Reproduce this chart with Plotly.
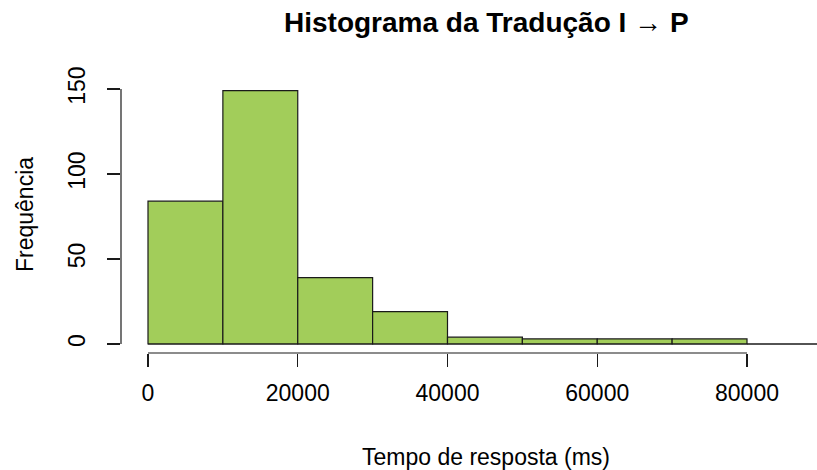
import plotly.graph_objects as go

# Histogram data (bin edges in ms, counts per bin)
bin_edges = [0, 10000, 20000, 30000, 40000, 50000, 60000, 70000, 80000, 90000, 100000]
counts = [84, 149, 39, 19, 4, 3, 3, 3, 0, 0]

x_ticks = [0, 20000, 40000, 60000, 80000]
x_tick_labels = ["0", "20000", "40000", "60000", "80000"]
y_ticks = [0, 50, 100, 150]
y_tick_labels = ["0", "50", "100", "150"]

title_text = "<b>Histograma da Tradução I \u2192 P</b>"
x_title = "Tempo de resposta (ms)"
y_title = "Frequência"

FONT = "Liberation Sans, Arial, sans-serif"
BAR_COLOR = "#A2CD5A"
EDGE = "#1a1a1a"

mids = [(a + b) / 2 for a, b in zip(bin_edges[:-1], bin_edges[1:])]
widths = [b - a for a, b in zip(bin_edges[:-1], bin_edges[1:])]

fig = go.Figure()
fig.add_trace(go.Bar(
    x=mids, y=counts, width=widths,
    marker=dict(color=BAR_COLOR, line=dict(color=EDGE, width=1.2)),
    hoverinfo="skip", showlegend=False,
))
# zero-height bins draw as a flat line along y = 0
fig.add_trace(go.Scatter(
    x=[bin_edges[0], bin_edges[-1]], y=[0, 0], mode="lines",
    line=dict(color=EDGE, width=1.2), hoverinfo="skip", showlegend=False,
))

W, H = 817, 470
plot_left, plot_top, plot_bottom = 121, 80, 353  # page pixels
ml, mr, mt = plot_left, 0, plot_top
mb = H - plot_bottom
PW = W - ml - mr
PH = H - mt - mb


def px_x(px):
    return (px - plot_left) / PW


def px_y(py):
    return (plot_bottom - py) / PH


fig.update_layout(
    width=W, height=H,
    margin=dict(l=ml, r=mr, t=mt, b=mb, pad=0, autoexpand=False),
    paper_bgcolor="white", plot_bgcolor="white",
    font=dict(family=FONT, color="black"),
    bargap=0,
    hovermode=False,
    xaxis=dict(
        range=[-3606, 89349], showgrid=False, zeroline=False, showline=False,
        tickmode="array", tickvals=x_ticks, ticktext=x_tick_labels,
        ticks="outside", ticklen=13, tickwidth=1.2, tickcolor=EDGE,
        tickfont=dict(size=23, family=FONT, color="black"),
        ticklabelstandoff=6, fixedrange=True,
    ),
    yaxis=dict(
        range=[-5.294, 155.29], showgrid=False, zeroline=False, showline=False,
        tickmode="array", tickvals=y_ticks, ticktext=y_tick_labels,
        ticks="outside", ticklen=13, tickwidth=1.2, tickcolor=EDGE,
        tickangle=-90,
        tickfont=dict(size=23, family=FONT, color="black"),
        ticklabelstandoff=13, fixedrange=True,
    ),
    shapes=[
        dict(type="line", xref="x", yref="paper", x0=x_ticks[0], x1=x_ticks[-1], y0=0, y1=0,
             line=dict(color=EDGE, width=1.2)),
        dict(type="line", xref="paper", yref="y", x0=0, x1=0, y0=y_ticks[0], y1=y_ticks[-1],
             line=dict(color=EDGE, width=1.2)),
    ],
    annotations=[
        dict(text=title_text, xref="paper", yref="paper", x=px_x(486), y=px_y(22),
             xanchor="center", yanchor="middle", showarrow=False,
             font=dict(size=28, family=FONT, color="black")),
        dict(text=x_title, xref="paper", yref="paper", x=px_x(486), y=px_y(457),
             xanchor="center", yanchor="middle", showarrow=False,
             font=dict(size=23, family=FONT, color="black")),
        dict(text=y_title, xref="paper", yref="paper", x=px_x(25), y=px_y(215),
             xanchor="center", yanchor="middle", showarrow=False, textangle=-90,
             font=dict(size=23, family=FONT, color="black")),
    ],
)

fig.write_html(
    "out.html",
    config={"displayModeBar": False, "staticPlot": True},
    post_script="document.body.style.margin='0';document.body.style.overflow='hidden';",
)
